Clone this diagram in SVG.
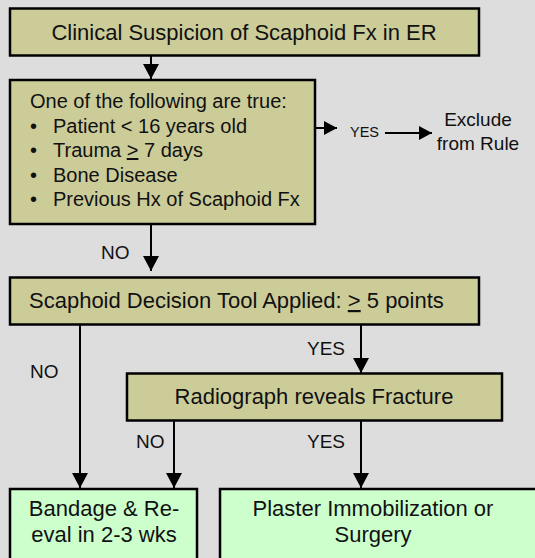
<svg xmlns="http://www.w3.org/2000/svg" width="535" height="558" viewBox="0 0 535 558">
<style>
  text { font-family: "Liberation Sans", Arial, sans-serif; fill: #111; }
  .t22 { font-size: 22px; }
  .t20 { font-size: 20px; }
  .lbl { font-size: 19px; }
  .sm { font-size: 14.5px; }
  .mid { text-anchor: middle; }
  .tan { fill: #cccc99; stroke: #000; stroke-width: 2.5; }
  .grn { fill: #ccffcc; stroke: #000; stroke-width: 2.5; }
  .con { fill: none; stroke: #000; stroke-width: 2; }
</style>
<defs>
  <marker id="arr" markerUnits="userSpaceOnUse" viewBox="0 0 15 16" refX="15" refY="8" markerWidth="15" markerHeight="16" orient="auto">
    <path d="M0,0 L15,8 L0,16 z" fill="#000"/>
  </marker>
  <marker id="arrS" markerUnits="userSpaceOnUse" viewBox="0 0 13 14" refX="13" refY="7" markerWidth="13" markerHeight="14" orient="auto">
    <path d="M0,0 L13,7 L0,14 z" fill="#000"/>
  </marker>
</defs>
<rect x="0" y="0" width="535" height="558" fill="#dddddd"/>

<g id="connectors">
  <path class="con" d="M151,56 V79" marker-end="url(#arr)"/>
  <path class="con" d="M315,128 H337" marker-end="url(#arrS)"/>
  <path class="con" d="M385,133 H432" marker-end="url(#arrS)"/>
  <path class="con" d="M151,224 V271" marker-end="url(#arr)"/>
  <path class="con" d="M80,325 V488" marker-end="url(#arr)"/>
  <path class="con" d="M361,325 V373" marker-end="url(#arr)"/>
  <path class="con" d="M174,421 V488" marker-end="url(#arr)"/>
  <path class="con" d="M361,421 V488" marker-end="url(#arr)"/>
  <text class="sm" x="350" y="137">YES</text>
  <text class="lbl" x="101" y="259">NO</text>
  <text class="lbl" x="30" y="378">NO</text>
  <text class="lbl" x="307" y="355">YES</text>
  <text class="lbl" x="136" y="448">NO</text>
  <text class="lbl" x="307" y="448">YES</text>
</g>

<g id="n-suspicion">
  <rect class="tan" x="10" y="8.5" width="469" height="47"/>
  <text class="t22 mid" x="244" y="39.5">Clinical Suspicion of Scaphoid Fx in ER</text>
</g>

<g id="n-exclusions">
  <rect class="tan" x="10" y="80" width="305" height="144"/>
  <text class="t20" x="30" y="108">One of the following are true:</text>
  <text class="t20" x="30" y="132.5">•</text>
  <text class="t20" x="53" y="132.5">Patient &lt; 16 years old</text>
  <text class="t20" x="30" y="157">•</text>
  <text class="t20" x="53" y="157">Trauma <tspan text-decoration="underline">&gt;</tspan> 7 days</text>
  <text class="t20" x="30" y="181.5">•</text>
  <text class="t20" x="53" y="181.5">Bone Disease</text>
  <text class="t20" x="30" y="206">•</text>
  <text class="t20" x="53" y="206">Previous Hx of Scaphoid Fx</text>
</g>

<g id="n-exclude">
  <text class="lbl mid" x="478" y="126">Exclude</text>
  <text class="lbl mid" x="478" y="150">from Rule</text>
</g>

<g id="n-tool">
  <rect class="tan" x="10" y="277.5" width="469" height="47"/>
  <text class="t22" x="29" y="308">Scaphoid Decision Tool Applied: <tspan text-decoration="underline">&gt;</tspan> 5 points</text>
</g>

<g id="n-radiograph">
  <rect class="tan" x="127" y="373.5" width="375" height="47"/>
  <text class="t22 mid" x="314" y="404">Radiograph reveals Fracture</text>
</g>

<g id="n-bandage">
  <rect class="grn" x="10" y="489" width="187" height="80"/>
  <text class="t22 mid" x="104" y="516">Bandage &amp; Re-</text>
  <text class="t22 mid" x="104" y="542">eval in 2-3 wks</text>
</g>

<g id="n-plaster">
  <rect class="grn" x="220" y="489" width="330" height="80"/>
  <text class="t22 mid" x="373" y="516">Plaster Immobilization or</text>
  <text class="t22 mid" x="373" y="542">Surgery</text>
</g>
</svg>
